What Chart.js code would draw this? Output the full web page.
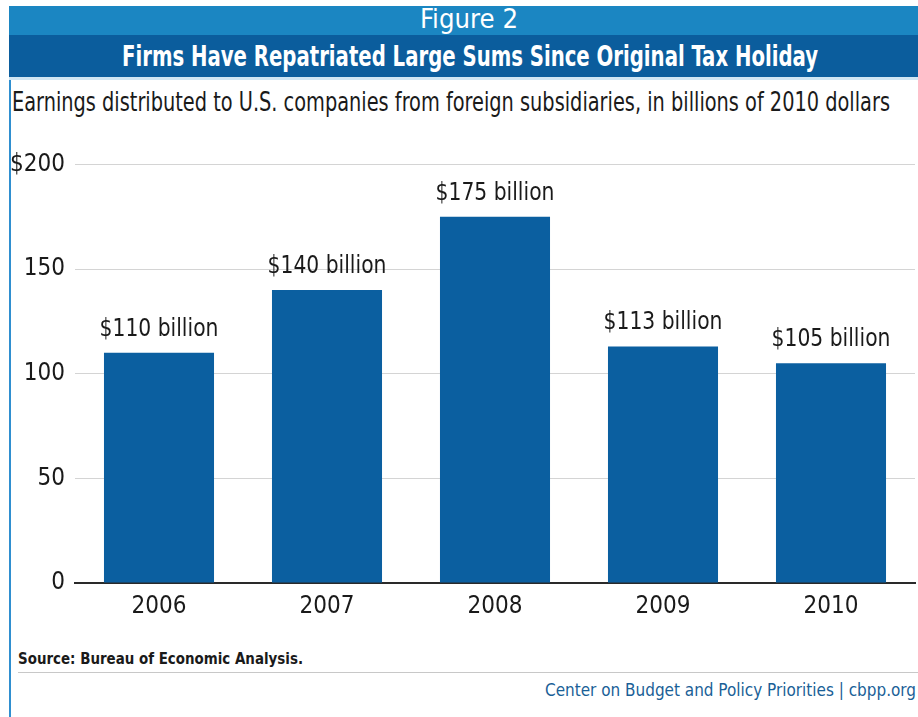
<!DOCTYPE html>
<html>
<head>
<meta charset="utf-8">
<script src="https://cdn.jsdelivr.net/npm/chart.js@4.4.1/dist/chart.umd.min.js"></script>
<style>
  html, body { margin: 0; padding: 0; background: #fff; }
  body { width: 918px; height: 717px; position: relative; overflow: hidden;
         font-family: "Liberation Sans Narrow", "DejaVu Sans Condensed", "Liberation Sans", sans-serif; }
  .leftrule { position: absolute; left: 9px; top: 6px; width: 2px; height: 711px; background: #2f8fd0; }
  .band1 { position: absolute; left: 9px; right: 0; top: 6px; height: 29px; background: #1b86c2; }
  .band2 { position: absolute; left: 9px; right: 0; top: 35px; height: 42px; background: #0b5d9d; }
  .band3 { position: absolute; left: 9px; right: 0; top: 77px; height: 3px; background: #cfe6f4; }
  .fit { position: absolute; white-space: nowrap; transform-origin: 0 0; }
  .fig { color: #fff; font-size: 26px; top: 4px; }
  .title { color: #fff; font-size: 29px; font-weight: bold; top: 39px; }
  .subtitle { font-size: 26px; color: #1a1a1a; top: 87px; }
  .chartbox { position: absolute; left: 0; top: 140px; width: 918px; height: 490px; }
  .source { font-size: 15px; font-weight: bold; color: #1a1a1a; top: 650px; }
  .srcrule { position: absolute; left: 18px; right: 0; top: 672px; height: 1px; background: #c8c8c8; }
  .credit { font-size: 17px; color: #1a5f97; top: 680px; }
</style>
</head>
<body>
<div class="leftrule"></div>
<div class="band1"></div>
<div class="band2"></div>
<div class="band3"></div>
<div class="fit fig" data-left="420" data-width="98">Figure 2</div>
<div class="fit title" data-left="122" data-width="696">Firms Have Repatriated Large Sums Since Original Tax Holiday</div>
<div class="fit subtitle" data-left="12" data-width="878">Earnings distributed to U.S. companies from foreign subsidiaries, in billions of 2010 dollars</div>
<div class="chartbox"><canvas id="c" width="918" height="490"></canvas></div>
<div class="fit source" data-left="18" data-width="285">Source: Bureau of Economic Analysis.</div>
<div class="srcrule"></div>
<div class="fit credit" data-left="545" data-width="371">Center on Budget and Policy Priorities | cbpp.org</div>
<script>
// Repatriated earnings, billions of 2010 dollars
const years = ['2006', '2007', '2008', '2009', '2010'];
const earnings = [110, 140, 175, 113, 105];
const valueLabels = ['$110 billion', '$140 billion', '$175 billion', '$113 billion', '$105 billion'];
const yTicks = [0, 50, 100, 150, 200];
const yTickLabels = ['0', '50', '100', '150', '$200'];

const FONT = '"Liberation Sans Narrow", "DejaVu Sans Condensed", "Liberation Sans", sans-serif';

// Squeeze each text line horizontally into its slot
document.querySelectorAll('.fit').forEach(el => {
  const w = el.getBoundingClientRect().width;
  const target = parseFloat(el.dataset.width);
  el.style.left = el.dataset.left + 'px';
  el.style.transform = 'scaleX(' + (target / w) + ')';
});

// Writes the dollar amount above each bar
const barValueLabels = {
  id: 'barValueLabels',
  afterDatasetsDraw(chart) {
    const ctx = chart.ctx;
    const meta = chart.getDatasetMeta(0);
    ctx.save();
    ctx.font = '24px ' + FONT;
    ctx.fillStyle = '#1a1a1a';
    ctx.textAlign = 'center';
    ctx.textBaseline = 'alphabetic';
    meta.data.forEach((bar, i) => {
      ctx.save();
      ctx.translate(bar.x, bar.y - 17);
      ctx.scale(0.94, 1);
      ctx.fillText(valueLabels[i], 0, 0);
      ctx.restore();
    });
    ctx.restore();
  }
};

new Chart(document.getElementById('c'), {
  type: 'bar',
  data: {
    labels: years,
    datasets: [{
      data: earnings,
      backgroundColor: '#0b5fa0',
      categoryPercentage: 0.655,
      barPercentage: 1.0
    }]
  },
  options: {
    responsive: false,
    animation: false,
    layout: { padding: { top: 21, right: 3, left: 0, bottom: 0 } },
    plugins: { legend: { display: false }, tooltip: { enabled: false } },
    scales: {
      x: {
        grid: { display: false, drawTicks: false },
        border: { display: true, color: '#2a2a2a', width: 2 },
        ticks: { color: '#1a1a1a', font: { family: FONT, size: 24 }, padding: 9 },
        afterFit(scale) { scale.height = 47; }
      },
      y: {
        min: 0, max: 200,
        afterBuildTicks(scale) { scale.ticks = yTicks.map(v => ({ value: v })); },
        grid: {
          drawTicks: false,
          color: ctx => (ctx.tick && ctx.tick.value === 0) ? 'rgba(0,0,0,0)' : '#d4d4d4',
          lineWidth: 1
        },
        border: { display: false },
        ticks: {
          color: '#1a1a1a',
          font: { family: FONT, size: 24 },
          padding: 10,
          callback: (v) => yTickLabels[yTicks.indexOf(v)]
        },
        afterFit(scale) { scale.width = 75; }
      }
    }
  },
  plugins: [barValueLabels]
});
</script>
</body>
</html>
